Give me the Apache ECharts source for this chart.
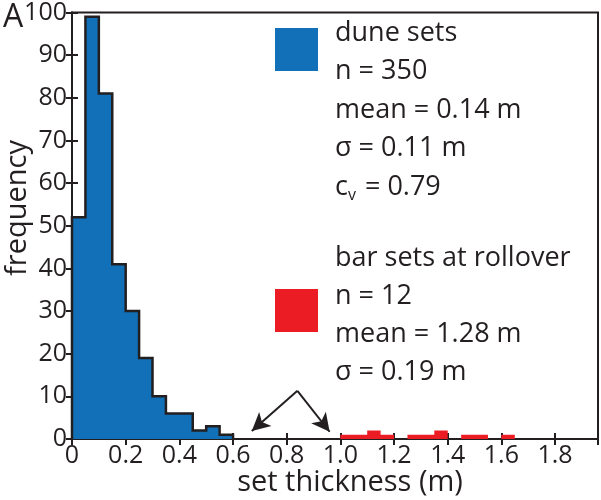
<!DOCTYPE html>
<html><head><meta charset="utf-8">
<script src="https://cdn.jsdelivr.net/npm/echarts@6/dist/echarts.min.js"></script>
<style>html,body{margin:0;padding:0;background:#fff}#c{width:601px;height:500px}</style>
</head><body><div id="c"></div>
<script>
// ---- data ----
const binWidth = 0.05;
const duneBinStarts = [0, 0.05, 0.10, 0.15, 0.20, 0.25, 0.30, 0.35, 0.40, 0.45, 0.50, 0.55];
const duneCounts    = [52, 99, 81, 41, 30, 19, 10, 6, 6, 2, 3, 1];
const barBinStarts  = [1.00, 1.05, 1.10, 1.15, 1.25, 1.30, 1.35, 1.45, 1.50, 1.60];
const barCounts     = [1, 1, 2, 1, 1, 1, 2, 1, 1, 1];
const xTickValues = [0, 0.2, 0.4, 0.6, 0.8, 1.0, 1.2, 1.4, 1.6, 1.8];
const yTickValues = [0, 10, 20, 30, 40, 50, 60, 70, 80, 90, 100];
const arrowApex = [0.84, 11.3];
const arrowTips = [[0.67, 1.9], [0.96, 1.7]];
const duneText = ['dune sets', 'n = 350', 'mean = 0.14 m', 'σ = 0.11 m'];
const duneCv = '0.79';
const barText = ['bar sets at rollover', 'n = 12', 'mean = 1.28 m', 'σ = 0.19 m'];

// ---- build stair outlines from bins ----
function stairs(starts, counts) {
  const pts = [];
  for (let i = 0; i < starts.length; i++) {
    const s = starts[i], e = +(s + binWidth).toFixed(4);
    const prevEnd = i > 0 ? +(starts[i-1] + binWidth).toFixed(4) : null;
    if (prevEnd === null || Math.abs(prevEnd - s) > 1e-6) pts.push([s, 0]);
    pts.push([s, counts[i]]);
    pts.push([e, counts[i]]);
    const nextStart = i < starts.length - 1 ? starts[i+1] : null;
    if (nextStart === null || Math.abs(nextStart - e) > 1e-6) pts.push([e, 0]);
  }
  return pts;
}

const INK = '#231f20';
const BLUE = '#1170b8';
const RED = '#ec1c24';
const FONT = 'Open Sans';
const TXT = 27;
const chart = echarts.init(document.getElementById('c'), null, {renderer: 'canvas'});

const xMin = 0, xMax = 1.96;
const axisCommon = {
  axisLine: {show: true, lineStyle: {color: INK, width: 2}},
  axisTick: {show: true, inside: true, length: 6, lineStyle: {color: INK, width: 2}},
  splitLine: {show: false}
};

chart.setOption({
  animation: false,
  backgroundColor: '#fff',
  grid: {left: 72, right: 3, top: 6, bottom: 61, show: true, borderColor: INK, borderWidth: 2},
  xAxis: [
    Object.assign({type: 'value', min: xMin, max: xMax, interval: 0.2, position: 'bottom',
      axisLabel: {show: true, color: INK, fontFamily: FONT, fontSize: 25, margin: 4, showMaxLabel: false,
        formatter: v => xTickValues.some(t => Math.abs(t - v) < 1e-6) ? (v === 0 ? '0' : v.toFixed(1)) : ''}}, axisCommon),
    Object.assign({type: 'value', min: xMin, max: xMax, interval: 0.2, position: 'top',
      axisLabel: {show: false}}, axisCommon)
  ],
  yAxis: [
    Object.assign({type: 'value', min: 0, max: 100, interval: 10, position: 'left',
      axisLabel: {show: true, color: INK, fontFamily: FONT, fontSize: 25, margin: 5,
        formatter: v => yTickValues.includes(v) ? String(v) : ''}}, axisCommon),
    Object.assign({type: 'value', min: 0, max: 100, interval: 10, position: 'right',
      axisLabel: {show: false}}, axisCommon)
  ],
  series: [
    {
      type: 'line', xAxisIndex: 0, yAxisIndex: 0, data: stairs(duneBinStarts, duneCounts),
      showSymbol: false, symbol: 'none', z: 3,
      lineStyle: {color: INK, width: 2.5, join: 'miter'},
      areaStyle: {color: BLUE, opacity: 1, origin: 0},
      markLine: {
        silent: true, symbol: ['none', 'arrow'], symbolSize: [14, 18],
        lineStyle: {color: INK, width: 2, type: 'solid'}, label: {show: false},
        data: arrowTips.map(t => [{coord: arrowApex}, {coord: t}])
      }
    },
    {
      type: 'line', xAxisIndex: 0, yAxisIndex: 0, data: stairs(barBinStarts, barCounts),
      showSymbol: false, symbol: 'none', z: 2,
      lineStyle: {width: 0, color: RED},
      areaStyle: {color: RED, opacity: 1, origin: 0}
    }
  ],
  graphic: [
    {type: 'text', x: 3, y: 18, style: {text: 'A', fontFamily: FONT, fontSize: 32, fill: INK, verticalAlign: 'middle'}},
    {type: 'text', x: 18, y: 208, rotation: Math.PI / 2,
      style: {text: 'frequency', fontFamily: FONT, fontSize: 29, fill: INK, align: 'center', verticalAlign: 'middle'}},
    {type: 'text', x: 350, y: 483,
      style: {text: 'set thickness (m)', fontFamily: FONT, fontSize: 29, fill: INK, align: 'center', verticalAlign: 'middle'}},
    {type: 'rect', shape: {x: 275, y: 28, width: 43, height: 43}, style: {fill: BLUE}},
    {type: 'rect', shape: {x: 275, y: 289, width: 43, height: 43}, style: {fill: RED}},
    ...duneText.map((t, i) => ({type: 'text', x: 335, y: 33 + i * 38.5,
      style: {text: t, fontFamily: FONT, fontSize: TXT, fill: INK, verticalAlign: 'middle'}})),
    {type: 'text', x: 335, y: 33 + 4 * 38.5,
      style: {text: '{a|c}{s|v}{a| = ' + duneCv + '}', fontFamily: FONT, fontSize: TXT, fill: INK, verticalAlign: 'middle',
        rich: {a: {fontFamily: FONT, fontSize: TXT, fill: INK, color: INK},
               s: {fontFamily: FONT, fontSize: 16, fill: INK, color: INK, padding: [16, 2, 0, 0]}}}},
    ...barText.map((t, i) => ({type: 'text', x: 335, y: 258 + i * 38,
      style: {text: t, fontFamily: FONT, fontSize: TXT, fill: INK, verticalAlign: 'middle'}}))
  ]
});
</script></body></html>
